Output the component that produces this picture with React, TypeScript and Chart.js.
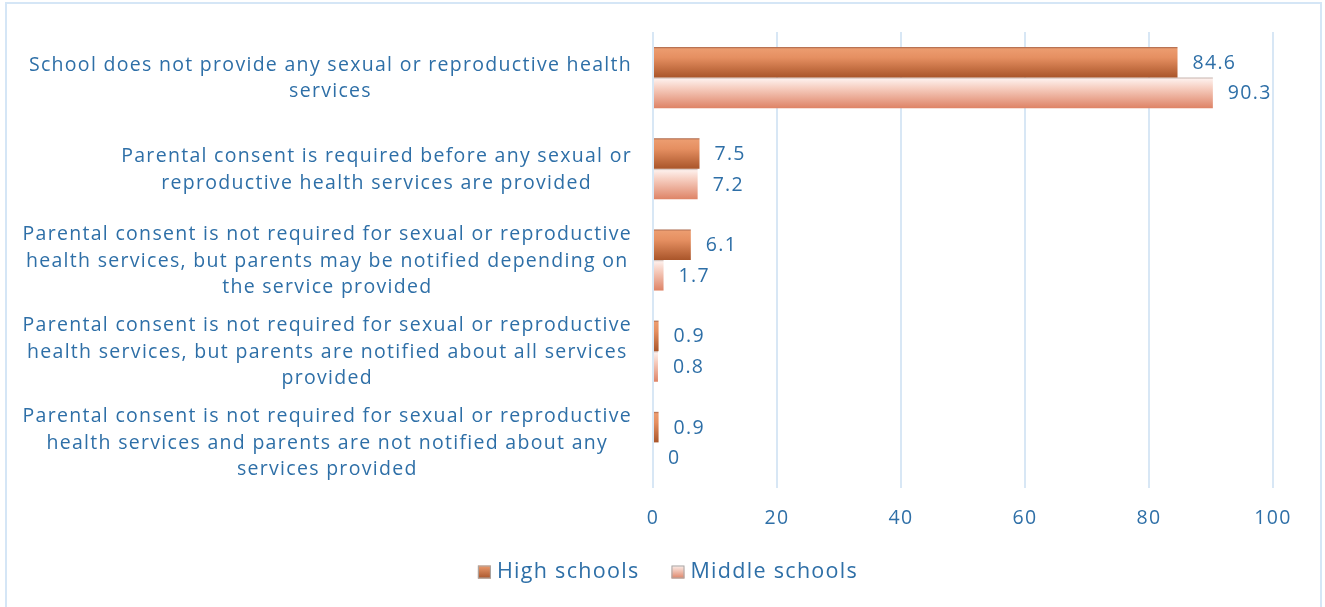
import React, { useEffect, useRef } from "react";
import { Chart, registerables } from "chart.js";

Chart.register(...registerables);

const categories: string[][] = [
  ["School does not provide any sexual or reproductive health", "services"],
  ["Parental consent is required before any sexual or", "reproductive health services are provided"],
  [
    "Parental consent is not required for sexual or reproductive",
    "health services, but parents may be notified depending on",
    "the service provided",
  ],
  [
    "Parental consent is not required for sexual or reproductive",
    "health services, but parents are notified about all services",
    "provided",
  ],
  [
    "Parental consent is not required for sexual or reproductive",
    "health services and parents are not notified about any",
    "services provided",
  ],
];
const seriesNames = ["High schools", "Middle schools"];
const highSchools = [84.6, 7.5, 6.1, 0.9, 0.9];
const middleSchools = [90.3, 7.2, 1.7, 0.8, 0];
const xTicks = [0, 20, 40, 60, 80, 100];

const FONT = "'Open Sans', sans-serif";
const TEXT = "#2E6FA7";
const GRID = "#D8E7F5";
const CAT_PCT = 0.67;
const SPACING = "1.3px";

const gradStops: [number, string][][] = [
  [
    [0, "#A8664A"],
    [0.06, "#EC9C6F"],
    [0.35, "#E58F61"],
    [1, "#A9552A"],
  ],
  [
    [0, "#C8B6B0"],
    [0.06, "#FDEEEA"],
    [0.35, "#F6CDBF"],
    [1, "#DE8366"],
  ],
];
const legendStops: [number, string][][] = [
  [
    [0, "#EC9C6F"],
    [1, "#A9552A"],
  ],
  [
    [0, "#FDF0EC"],
    [1, "#DE8366"],
  ],
];

function makeGrad(ctx: CanvasRenderingContext2D, y0: number, h: number, stops: [number, string][]) {
  const g = ctx.createLinearGradient(0, y0, 0, y0 + h);
  stops.forEach(([o, c]) => g.addColorStop(o, c));
  return g;
}

function barGradient(c: any) {
  const chart = c.chart;
  const ds = c.datasetIndex;
  const { chartArea, scales } = chart;
  if (c.dataIndex === undefined || !chartArea || !scales.y) return gradStops[ds][2][1];
  const y = scales.y;
  const yc = y.getPixelForValue(c.dataIndex);
  const band = (y.bottom - y.top) / categories.length;
  const t = (band * CAT_PCT) / 2;
  const y0 = ds === 0 ? yc - t : yc;
  return makeGrad(chart.ctx, y0, t, gradStops[ds]);
}

const spacingPlugin = {
  id: "spacing",
  beforeUpdate(chart: any) {
    chart.ctx.letterSpacing = SPACING;
  },
  beforeDraw(chart: any) {
    chart.ctx.letterSpacing = SPACING;
  },
};

const yLabelPlugin = {
  id: "yLabels",
  afterDraw(chart: any) {
    const { ctx, scales } = chart;
    const y = scales.y;
    const right = chart.chartArea.left - 21;
    const lh = 26.5;
    ctx.save();
    ctx.letterSpacing = SPACING;
    ctx.font = `19.5px ${FONT}`;
    ctx.fillStyle = TEXT;
    ctx.textAlign = "center";
    ctx.textBaseline = "middle";
    categories.forEach((lines, i) => {
      const yc = y.getPixelForValue(i) + 1;
      const maxW = Math.max(...lines.map((l) => ctx.measureText(l).width));
      const cx = right - maxW / 2;
      lines.forEach((l, j) => {
        ctx.fillText(l, cx, yc + (j - (lines.length - 1) / 2) * lh);
      });
    });
    ctx.restore();
  },
};

const valueLabelPlugin = {
  id: "valueLabels",
  afterDatasetsDraw(chart: any) {
    const { ctx } = chart;
    ctx.save();
    ctx.letterSpacing = SPACING;
    ctx.font = `19.5px ${FONT}`;
    ctx.fillStyle = TEXT;
    ctx.textAlign = "left";
    ctx.textBaseline = "middle";
    chart.data.datasets.forEach((ds: any, di: number) => {
      const meta = chart.getDatasetMeta(di);
      meta.data.forEach((el: any, i: number) => {
        ctx.fillText(String(ds.data[i]), el.x + 15, el.y + 1);
      });
    });
    ctx.restore();
  },
};

const legendPlugin = {
  id: "customLegend",
  afterDraw(chart: any) {
    const { ctx } = chart;
    const cy = 572;
    const centerX = 668;
    const box = 13;
    const gapText = 6;
    const gapItem = 32;
    ctx.save();
    ctx.letterSpacing = SPACING;
    ctx.font = `21.5px ${FONT}`;
    const widths = seriesNames.map((n) => ctx.measureText(n).width);
    const total = widths.reduce((a, w) => a + box + gapText + w, 0) + gapItem * (seriesNames.length - 1);
    let x = centerX - total / 2;
    seriesNames.forEach((n, i) => {
      const by = cy - box / 2;
      ctx.fillStyle = makeGrad(ctx, by, box, legendStops[i]);
      ctx.fillRect(x, by, box, box);
      ctx.strokeStyle = "#A8A8A8";
      ctx.lineWidth = 1;
      ctx.strokeRect(x + 0.5, by + 0.5, box - 1, box - 1);
      ctx.fillStyle = TEXT;
      ctx.textAlign = "left";
      ctx.textBaseline = "middle";
      ctx.fillText(n, x + box + gapText, cy);
      x += box + gapText + widths[i] + gapItem;
    });
    ctx.restore();
  },
};

export default function App() {
  const ref = useRef<HTMLCanvasElement | null>(null);
  useEffect(() => {
    if (!ref.current) return;
    const chart = new Chart(ref.current, {
      type: "bar",
      data: {
        labels: categories.map((c) => c.join(" ")),
        datasets: [
          {
            label: seriesNames[0],
            data: highSchools,
            backgroundColor: barGradient,
            borderWidth: 0,
            categoryPercentage: CAT_PCT,
            barPercentage: 1,
          },
          {
            label: seriesNames[1],
            data: middleSchools,
            backgroundColor: barGradient,
            borderWidth: 0,
            categoryPercentage: CAT_PCT,
            barPercentage: 1,
          },
        ],
      },
      options: {
        indexAxis: "y",
        animation: false,
        responsive: false,
        maintainAspectRatio: false,
        layout: { padding: { top: 32, right: 52, bottom: 0, left: 0 } },
        scales: {
          x: {
            min: 0,
            max: 100,
            afterBuildTicks: (s: any) => {
              s.ticks = xTicks.map((v) => ({ value: v }));
            },
            afterFit: (s: any) => {
              s.height = 119;
            },
            grid: { color: GRID, lineWidth: 2, drawTicks: false },
            border: { display: false },
            ticks: {
              color: TEXT,
              font: { family: FONT, size: 19.5 },
              padding: 19,
            },
          },
          y: {
            afterFit: (s: any) => {
              s.width = 653;
            },
            grid: { display: false },
            border: { display: false },
            ticks: { display: false },
          },
        },
        plugins: {
          tooltip: { enabled: false },
          legend: { display: false },
        },
      },
      plugins: [spacingPlugin, yLabelPlugin, valueLabelPlugin, legendPlugin],
    } as any);
    return () => chart.destroy();
  }, []);

  return (
    <div style={{ position: "fixed", left: 0, top: 0, width: 1325, height: 607, background: "#fff", overflow: "hidden" }}>
      <div
        style={{
          position: "absolute",
          left: 5,
          top: 2,
          width: 1313,
          height: 700,
          border: "2px solid #D5E6F6",
        }}
      />
      <canvas ref={ref} width={1325} height={607} style={{ position: "absolute", left: 0, top: 0 }} />
    </div>
  );
}
